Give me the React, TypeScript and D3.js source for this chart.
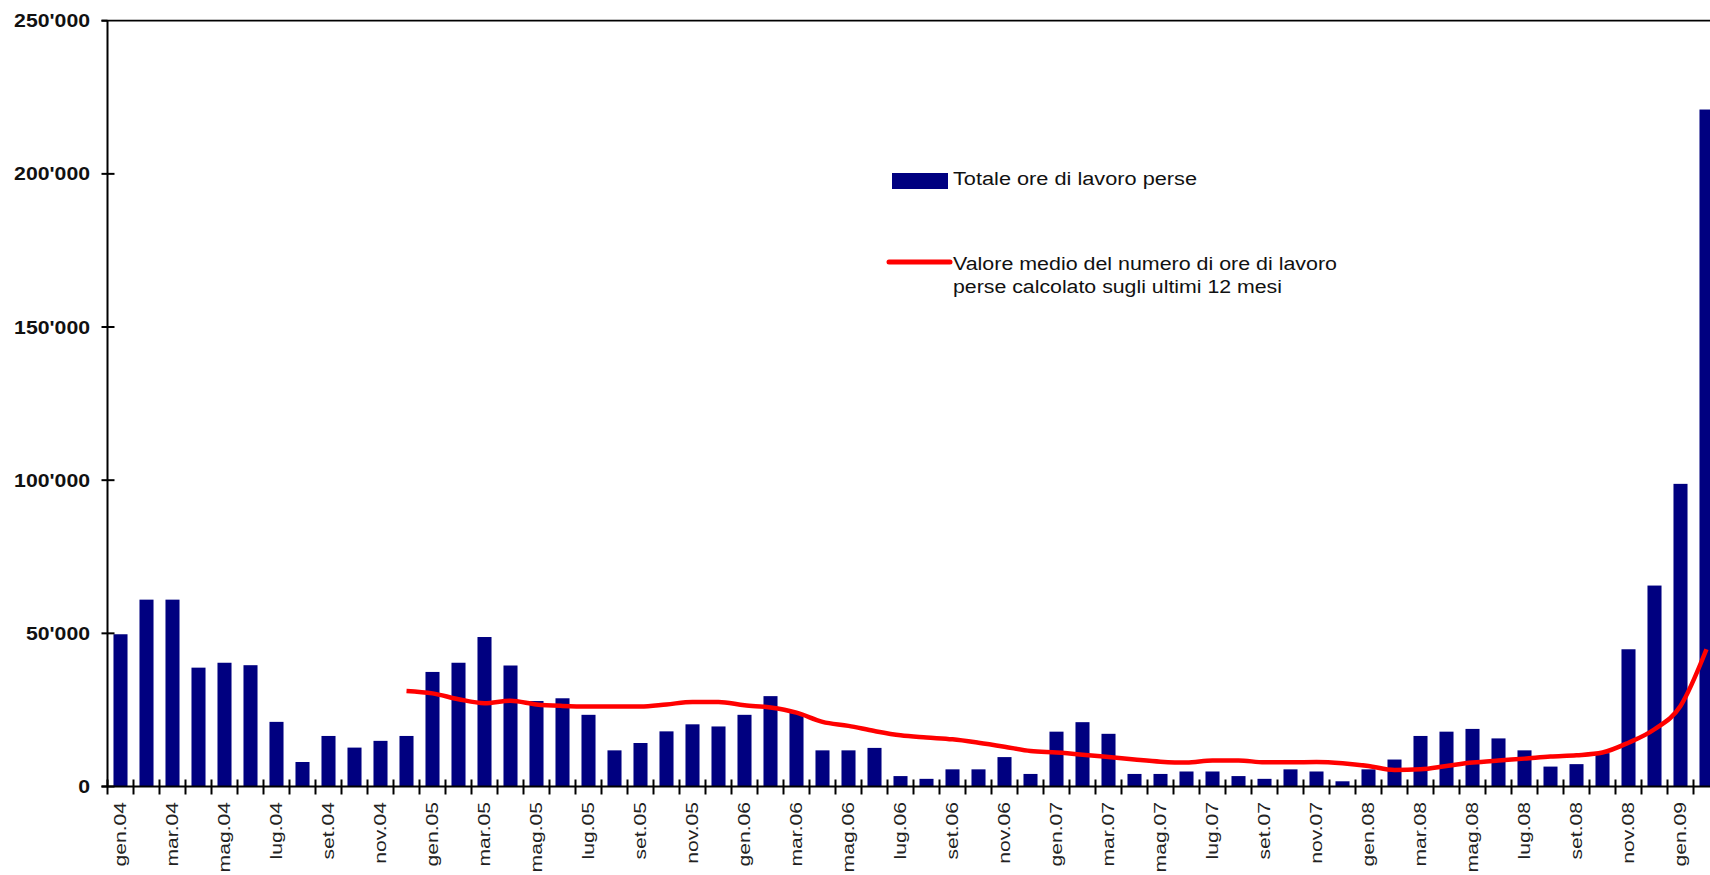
import { useEffect, useRef } from "react"
import * as d3 from "d3"

const months = [
  "gen.04", "feb.04", "mar.04", "apr.04", "mag.04", "giu.04", "lug.04", "ago.04", "set.04", "ott.04", "nov.04", "dic.04",
  "gen.05", "feb.05", "mar.05", "apr.05", "mag.05", "giu.05", "lug.05", "ago.05", "set.05", "ott.05", "nov.05", "dic.05",
  "gen.06", "feb.06", "mar.06", "apr.06", "mag.06", "giu.06", "lug.06", "ago.06", "set.06", "ott.06", "nov.06", "dic.06",
  "gen.07", "feb.07", "mar.07", "apr.07", "mag.07", "giu.07", "lug.07", "ago.07", "set.07", "ott.07", "nov.07", "dic.07",
  "gen.08", "feb.08", "mar.08", "apr.08", "mag.08", "giu.08", "lug.08", "ago.08", "set.08", "ott.08", "nov.08", "dic.08",
  "gen.09", "feb.09",
]

// Totale ore di lavoro perse (monthly)
const oreperse = [
  49700, 61000, 61000, 38800, 40400, 39600, 21100, 8000, 16500, 12700, 14900, 16500,
  37400, 40400, 48800, 39500, 27900, 28800, 23400, 11800, 14200, 18000, 20300, 19600,
  23400, 29500, 24000, 11800, 11800, 12600, 3400, 2500, 5600, 5600, 9600, 4100,
  17900, 21000, 17200, 4100, 4100, 4900, 4900, 3400, 2500, 5600, 4900, 1700,
  5600, 8800, 16500, 17900, 18800, 15700, 11800, 6500, 7300, 10900, 44800, 65600,
  98800, 221000,
]

// 12-month moving average, starting at dic.04
const mediaStart = "dic.04"
const media12 = [
  31200,
  30400, 28500, 27200, 28000, 26800, 26300, 26100, 26100, 26100, 26800, 27600, 27600,
  26500, 25800, 24100, 21100, 19800, 18100, 16700, 16000, 15400, 14300, 13000, 11600,
  11100, 10400, 9600, 8800, 8100, 7800, 8500, 8500, 7900, 7900, 8000, 7600,
  6700, 5400, 5600, 6700, 7800, 8500, 9100, 9800, 10200, 11100, 14300, 18700,
  26300, 44800,
]

const yTicks = [0, 50000, 100000, 150000, 200000, 250000]

const legendBar = "Totale ore di lavoro perse"
const legendLine = ["Valore medio del numero di ore di lavoro", "perse calcolato sugli ultimi 12 mesi"]

const WIDTH = 1710
const HEIGHT = 875
const FONT = "'Liberation Sans', Arial, sans-serif"

export default function App() {
  const svgRef = useRef<SVGSVGElement>(null)

  useEffect(() => {
    if (!svgRef.current) return
    const svg = d3.select(svgRef.current)
    svg.selectAll("*").remove()

    const left = 107.5
    const step = 26
    const top = 20.7
    const bottom = 786.5

    const x = d3
      .scaleBand()
      .domain(months)
      .range([left, left + months.length * step])
      .paddingInner(0.46)
      .paddingOuter(0.23)

    const y = d3.scaleLinear().domain([0, 250000]).range([bottom, top])
    const right = left + months.length * step

    const fmt = d3.formatLocale({ decimal: ".", thousands: "'", grouping: [3], currency: ["", ""] }).format(",")

    // bars
    svg
      .append("g")
      .selectAll("rect")
      .data(oreperse)
      .enter()
      .append("rect")
      .attr("x", (_, i) => x(months[i]) || 0)
      .attr("y", (d) => y(d))
      .attr("width", x.bandwidth())
      .attr("height", (d) => bottom - y(d))
      .attr("fill", "#000080")

    // moving average line
    const offset = months.indexOf(mediaStart)
    const line = d3
      .line<number>()
      .x((_, i) => (x(months[i + offset]) || 0) + x.bandwidth() / 2)
      .y((d) => y(d))
      .curve(d3.curveMonotoneX)

    svg
      .append("path")
      .datum(media12)
      .attr("fill", "none")
      .attr("stroke", "#ff0000")
      .attr("stroke-width", 4.5)
      .attr("stroke-linejoin", "round")
      .attr("d", line)

    // axes lines
    svg.append("line").attr("x1", left).attr("x2", left).attr("y1", top).attr("y2", bottom)
      .attr("stroke", "#000").attr("stroke-width", 2)
    svg.append("line").attr("x1", left - 6).attr("x2", right).attr("y1", top).attr("y2", top)
      .attr("stroke", "#000").attr("stroke-width", 1.8)
    svg.append("line").attr("x1", left - 6).attr("x2", right).attr("y1", bottom).attr("y2", bottom)
      .attr("stroke", "#000").attr("stroke-width", 2)

    // y ticks + labels
    const yAxis = svg.append("g")
    yTicks.forEach((t) => {
      yAxis.append("line").attr("x1", left - 6).attr("x2", t === 250000 ? left : left + 7)
        .attr("y1", y(t)).attr("y2", y(t)).attr("stroke", "#000").attr("stroke-width", 2)
      yAxis
        .append("text")
        .attr("transform", `translate(90, ${y(t)}) scale(1.18, 1)`)
        .attr("dy", "0.36em")
        .attr("text-anchor", "end")
        .style("font-family", FONT)
        .style("font-size", "18px")
        .style("font-weight", "bold")
        .style("fill", "#111")
        .text(fmt(t))
    })

    // x ticks (between categories)
    const xAxis = svg.append("g")
    d3.range(months.length + 1).forEach((i) => {
      const tx = left + i * step
      xAxis.append("line").attr("x1", tx).attr("x2", tx).attr("y1", bottom - 7).attr("y2", bottom + 8)
        .attr("stroke", "#000").attr("stroke-width", 2)
    })

    // x labels, every other month
    months.forEach((m, i) => {
      if (i % 2 !== 0) return
      const cx = (x(m) || 0) + x.bandwidth() / 2
      xAxis
        .append("text")
        .attr("transform", `translate(${cx}, 802) rotate(-90) scale(1.32, 1)`)
        .attr("dy", "0.36em")
        .attr("text-anchor", "end")
        .style("font-family", FONT)
        .style("font-size", "16px")
        .style("fill", "#222")
        .text(m)
    })

    // legend
    const legend = svg.append("g")
    legend.append("rect").attr("x", 892).attr("y", 173).attr("width", 56).attr("height", 16).attr("fill", "#000080")
    legend
      .append("text")
      .attr("x", 953)
      .attr("y", 185)
      .attr("textLength", 244)
      .attr("lengthAdjust", "spacingAndGlyphs")
      .style("font-family", FONT)
      .style("font-size", "18px")
      .style("fill", "#111")
      .text(legendBar)

    legend.append("line").attr("x1", 889).attr("x2", 950).attr("y1", 262).attr("y2", 262)
      .attr("stroke", "#ff0000").attr("stroke-width", 5).attr("stroke-linecap", "round")
    const lineWidths = [384, 329]
    legendLine.forEach((txt, i) => {
      legend
        .append("text")
        .attr("x", 953)
        .attr("y", 270 + i * 23)
        .attr("textLength", lineWidths[i])
        .attr("lengthAdjust", "spacingAndGlyphs")
        .style("font-family", FONT)
        .style("font-size", "18px")
        .style("fill", "#111")
        .text(txt)
    })
  }, [])

  return (
    <div style={{ position: "fixed", left: 0, top: 0, width: WIDTH, height: HEIGHT, background: "#fff" }}>
      <svg ref={svgRef} width={WIDTH} height={HEIGHT} style={{ display: "block" }} />
    </div>
  )
}
